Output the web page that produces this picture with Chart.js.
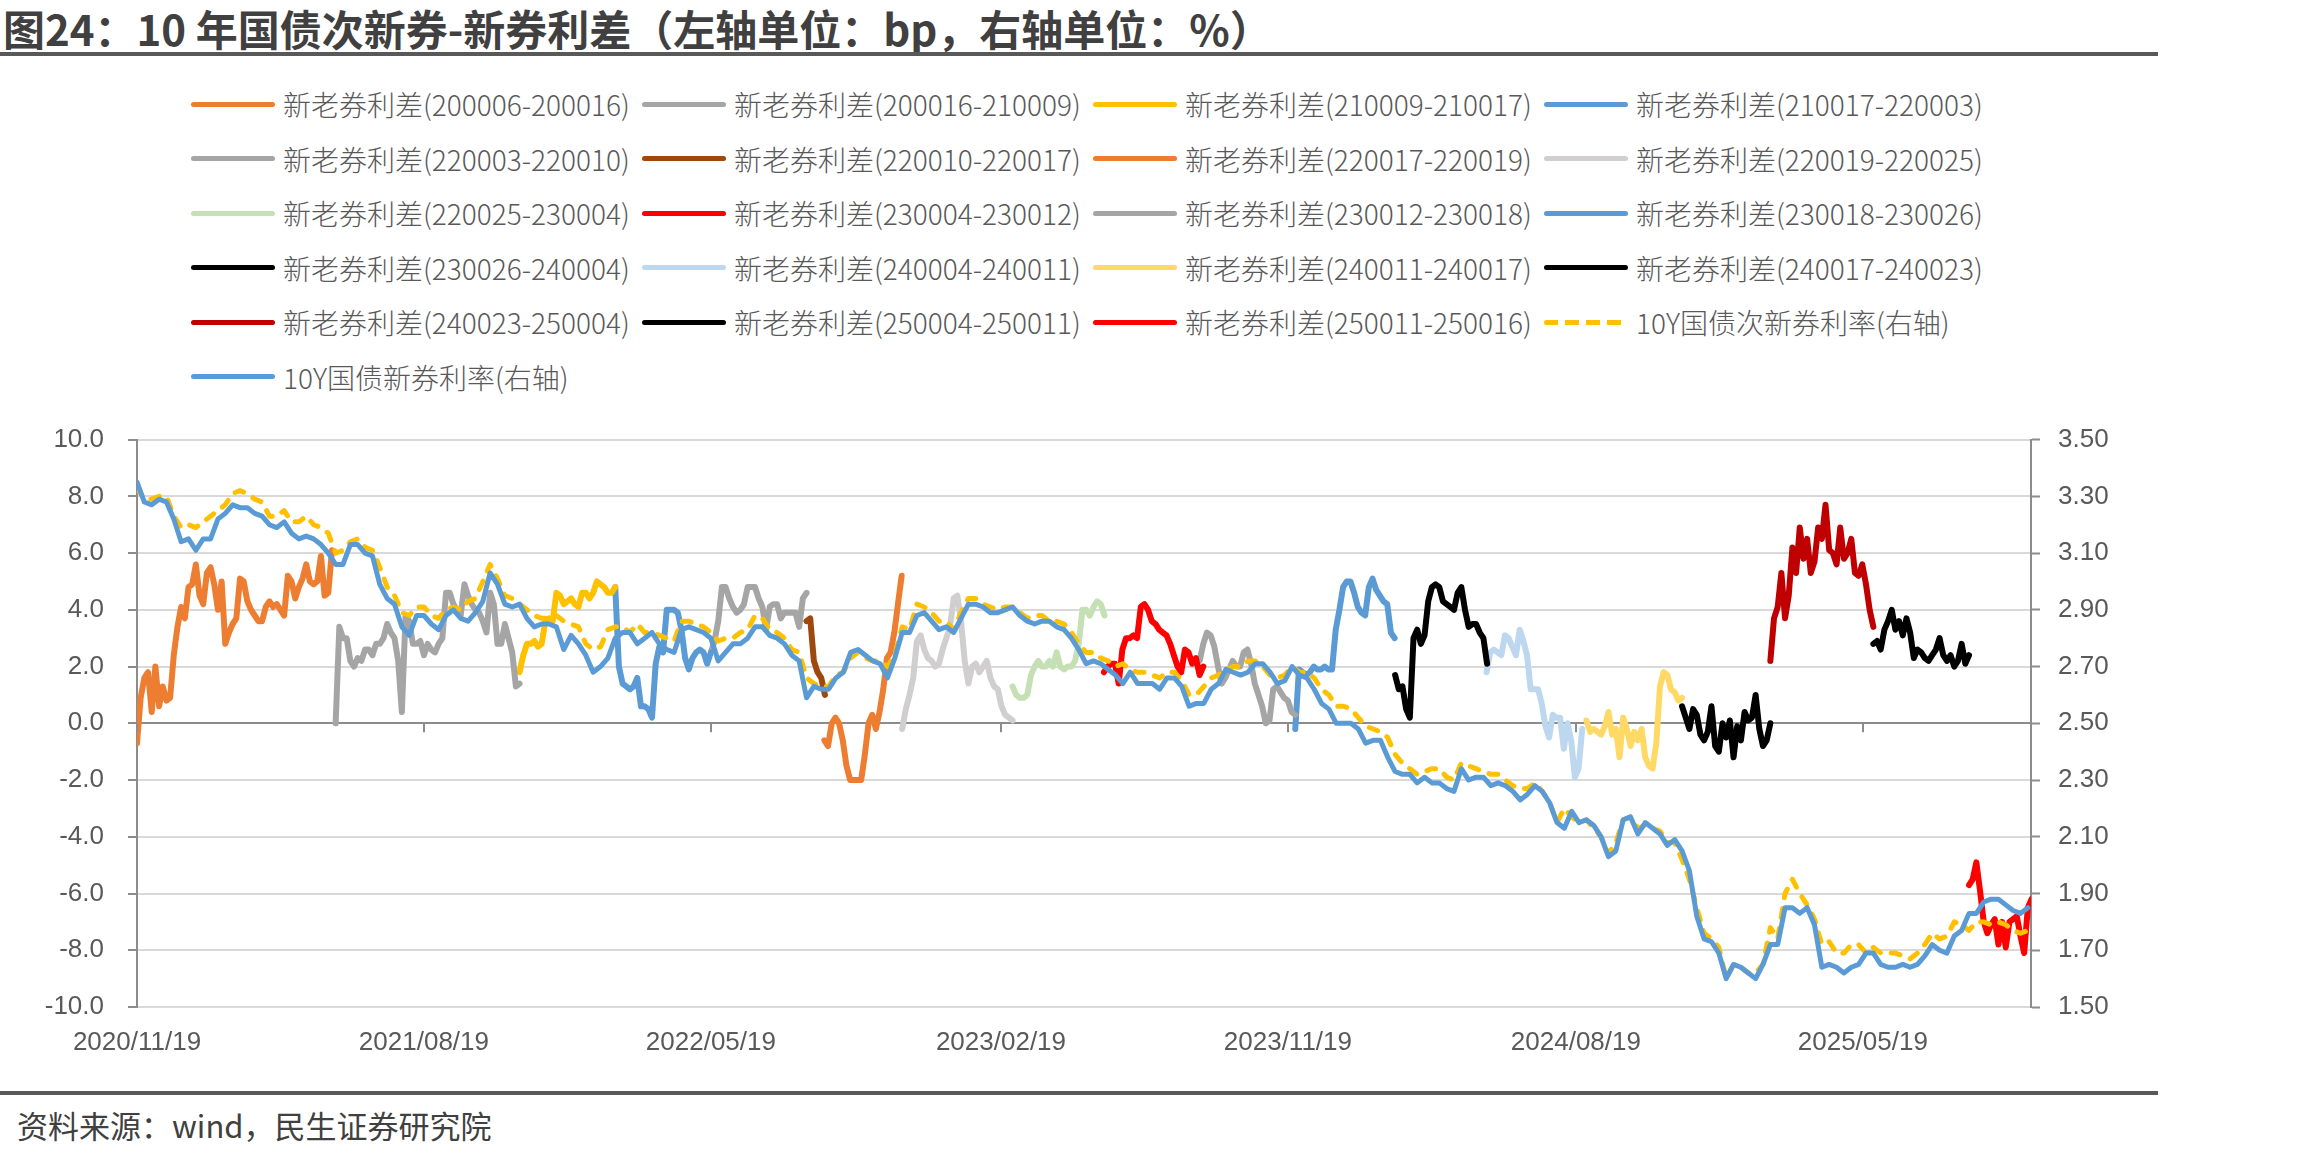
<!DOCTYPE html>
<html>
<head>
<meta charset="utf-8">
<script src="https://cdn.jsdelivr.net/npm/chart.js@4.4.1/dist/chart.umd.min.js"></script>
<style>
  body { margin: 0; background: #fff; }
  #page { position: relative; width: 2310px; height: 1155px; overflow: hidden; font-family: "Noto Sans CJK SC", sans-serif; }
  #title { position: absolute; left: 3px; top: 1px; font-size: 42px; font-weight: bold; color: #404040; line-height: 54px; white-space: nowrap; }
  .rule { position: absolute; left: 0; width: 2158px; height: 4px; background: #595959; }
  #legend { position: absolute; left: 191px; top: 77px; display: grid; grid-template-columns: repeat(4, 451px); grid-auto-rows: 54.5px; }
  .item { display: flex; align-items: center; font-size: 28px; font-weight: 300; color: #595959; white-space: nowrap; }
  .swatch { width: 84px; height: 5px; border-radius: 3px; margin-right: 8px; flex: none; }
  #source { position: absolute; left: 17px; top: 1103px; font-size: 31px; color: #404040; line-height: 44px; white-space: nowrap; }
  #chartBox { position: absolute; left: 0; top: 400px; width: 2160px; height: 680px; }
</style>
</head>
<body>
<div id="page">
  <div id="title">图24：10 年国债次新券-新券利差（左轴单位：bp，右轴单位：%）</div>
  <div class="rule" style="top:52px"></div>
  <div id="legend"></div>
  <div id="chartBox"><canvas id="spreadChart" width="2160" height="680"></canvas></div>
  <div class="rule" style="top:1091px"></div>
  <div id="source">资料来源：wind，民生证券研究院</div>
</div>
<script>
// x axis labels (every 9 months)
const xTickLabels = ["2020/11/19", "2021/08/19", "2022/05/19", "2023/02/19", "2023/11/19", "2024/08/19", "2025/05/19"];
const firstDate = "2020-11-19";
const lastDate = "2025-10-26";

// weekly readings, right axis (%), starting 2020-11-19
const yieldStepDays = 7;
const newYield = [
  3.35, 3.28, 3.27, 3.29, 3.28, 3.22, 3.14, 3.15, 3.11, 3.15, 3.15, 3.22, 3.24, 3.27, 3.26, 3.26, 3.24, 3.23, 3.20, 3.19,
  3.21, 3.17, 3.15, 3.16, 3.15, 3.13, 3.10, 3.06, 3.06, 3.13, 3.13, 3.10, 3.09, 2.99, 2.94, 2.92, 2.84, 2.81, 2.88, 2.88,
  2.85, 2.83, 2.88,
  2.90, 2.87, 2.86, 2.89, 2.93, 3.03, 2.99, 2.92, 2.91, 2.92, 2.87, 2.84, 2.85, 2.85, 2.84, 2.76, 2.81, 2.78, 2.74, 2.68,
  2.70, 2.73, 2.80, 2.82, 2.82, 2.78, 2.80, 2.82, 2.78, 2.76, 2.75, 2.83, 2.84, 2.83, 2.82, 2.80, 2.72, 2.75, 2.78, 2.78,
  2.80, 2.84,
  2.84, 2.81, 2.80, 2.78, 2.74, 2.72, 2.59, 2.63, 2.62, 2.62, 2.66, 2.68, 2.75, 2.76, 2.74, 2.72, 2.71, 2.66, 2.73, 2.82,
  2.82, 2.88, 2.89, 2.86, 2.83, 2.84, 2.82, 2.87, 2.92, 2.92, 2.91, 2.89, 2.89, 2.90, 2.91, 2.88, 2.86, 2.85, 2.86, 2.86,
  2.84, 2.83, 2.80, 2.76, 2.71,
  2.72, 2.71, 2.69, 2.67, 2.64, 2.68, 2.64, 2.64, 2.64, 2.62, 2.66, 2.66, 2.63, 2.56, 2.57, 2.57, 2.62, 2.64, 2.69, 2.68,
  2.67, 2.68, 2.71, 2.71, 2.68, 2.64, 2.65, 2.70, 2.67, 2.66, 2.62, 2.57, 2.55, 2.50, 2.50, 2.50, 2.48, 2.43, 2.44, 2.44,
  2.38, 2.33, 2.32,
  2.32, 2.29, 2.31, 2.29, 2.29, 2.27, 2.26, 2.34, 2.30, 2.31, 2.31, 2.28, 2.29, 2.28, 2.26, 2.23, 2.25, 2.28, 2.26, 2.22,
  2.15, 2.13, 2.19, 2.15, 2.16, 2.14, 2.10, 2.03, 2.05, 2.16, 2.17, 2.11, 2.15, 2.13, 2.11, 2.07, 2.09, 2.05, 1.98, 1.82,
  1.74, 1.73, 1.69, 1.60,
  1.65, 1.64, 1.62, 1.60, 1.65, 1.72, 1.72, 1.85, 1.85, 1.83, 1.85, 1.79, 1.64, 1.65, 1.64, 1.62, 1.64, 1.65, 1.69, 1.69,
  1.65, 1.64, 1.64, 1.65, 1.64, 1.65, 1.68, 1.72, 1.70, 1.69, 1.75, 1.77, 1.83, 1.83, 1.87, 1.88, 1.88, 1.86, 1.84, 1.83,
  1.85
];
const oldYield = [
  3.33, 3.29, 3.29, 3.30, 3.30, 3.23, 3.19, 3.20, 3.19, 3.21, 3.23, 3.25, 3.27, 3.31, 3.32, 3.31, 3.29, 3.28, 3.23, 3.23,
  3.25, 3.21, 3.21, 3.23, 3.20, 3.19, 3.17, 3.10, 3.11, 3.14, 3.15, 3.12, 3.11, 3.05, 2.98, 2.95, 2.89, 2.88, 2.91, 2.91,
  2.88, 2.87, 2.90,
  2.91, 2.90, 2.93, 2.94, 3.00, 3.06, 3.01, 2.95, 2.94, 2.92, 2.90, 2.88, 2.87, 2.87, 2.88, 2.86, 2.85, 2.84, 2.78, 2.76,
  2.77, 2.83, 2.84, 2.84, 2.82, 2.85, 2.82, 2.82, 2.81, 2.80, 2.79, 2.86, 2.86, 2.85, 2.84, 2.82, 2.79, 2.80, 2.80, 2.82,
  2.83, 2.88,
  2.87, 2.83, 2.82, 2.80, 2.76, 2.75, 2.66, 2.64, 2.63, 2.63, 2.67, 2.68, 2.73, 2.75, 2.73, 2.72, 2.72, 2.70, 2.74, 2.84,
  2.83, 2.92, 2.91, 2.89, 2.86, 2.86, 2.83, 2.89, 2.94, 2.94, 2.92, 2.91, 2.90, 2.91, 2.91, 2.89, 2.87, 2.88, 2.88, 2.86,
  2.86, 2.85, 2.82, 2.78, 2.75,
  2.75, 2.73, 2.72, 2.70, 2.71, 2.69, 2.68, 2.68, 2.67, 2.66, 2.68, 2.68, 2.65, 2.60, 2.60, 2.63, 2.66, 2.67, 2.69, 2.70,
  2.70, 2.72, 2.72, 2.70, 2.67, 2.66, 2.67, 2.70, 2.68, 2.68, 2.66, 2.62, 2.60, 2.56, 2.56, 2.55, 2.52, 2.49, 2.48, 2.47,
  2.45, 2.39, 2.36,
  2.34, 2.32, 2.33, 2.34, 2.34, 2.31, 2.30, 2.36, 2.35, 2.34, 2.33, 2.32, 2.32, 2.30, 2.28, 2.27, 2.27, 2.29, 2.26, 2.22,
  2.15, 2.20, 2.17, 2.15, 2.16, 2.13, 2.10, 2.04, 2.08, 2.16, 2.17, 2.13, 2.14, 2.13, 2.12, 2.08, 2.08, 2.02, 1.95, 1.85,
  1.76, 1.74, 1.71, 1.60,
  1.65, 1.64, 1.62, 1.62, 1.65, 1.78, 1.74, 1.90, 1.95, 1.90, 1.86, 1.81, 1.72, 1.73, 1.69, 1.69, 1.72, 1.72, 1.69, 1.71,
  1.69, 1.69, 1.69, 1.68, 1.67, 1.69, 1.72, 1.76, 1.74, 1.75, 1.80, 1.79, 1.77, 1.80, 1.80, 1.79, 1.80, 1.79, 1.77, 1.76,
  1.77
];

// old-new spreads, left axis (bp), read every half week from each start date
const spreadStepDays = 3.5;
const spreadNames = [
  "200006-200016", "200016-210009", "210009-210017", "210017-220003",
  "220003-220010", "220010-220017", "220017-220019", "220019-220025",
  "220025-230004", "230004-230012", "230012-230018", "230018-230026",
  "230026-240004", "240004-240011", "240011-240017", "240017-240023",
  "240023-250004", "250004-250011", "250011-250016"
];
const spreadStarts = [
  "2020-11-19", "2021-05-27", "2021-11-18", "2022-02-17",
  "2022-05-19", "2022-08-18", "2022-09-04", "2022-11-17",
  "2023-03-02", "2023-05-28", "2023-08-27", "2023-11-26",
  "2024-02-29", "2024-05-26", "2024-08-29", "2024-11-28",
  "2025-02-20", "2025-05-29", "2025-08-28"
];
const sp_200006_200016 = [-0.7, 0.9, 1.6, 1.8, 0.4, 2.0, 0.6, 1.3, 0.8, 0.9, 2.4, 3.4, 4.1, 3.7, 4.8, 4.9, 5.6, 4.5, 4.2, 5.3,
  5.5, 4.9, 4.0, 5.0, 2.8, 3.2, 3.5, 3.7, 5.1, 5.0, 4.3, 4.0, 3.8, 3.6, 3.6, 4.1, 4.3, 4.1, 4.2, 4.0,
  3.8, 5.2, 5.0, 4.4, 4.8, 5.1, 5.6, 5.0, 4.9, 5.0, 5.9, 4.5, 4.6, 6.1];
const sp_200016_210009 = [0.0, 3.4, 3.0, 3.0, 2.2, 2.0, 2.3, 2.2, 2.6, 2.6, 2.4, 2.8, 2.8, 3.0, 3.5, 3.2, 3.0, 2.2, 0.4, 3.8,
  3.6, 2.8, 2.8, 2.9, 2.4, 2.8, 2.6, 2.5, 2.8, 3.0, 4.6, 4.6, 4.2, 4.0, 3.8, 4.9, 4.5, 4.2, 4.0, 3.9,
  3.6, 3.2, 4.6, 4.2, 2.8, 2.8, 3.5, 3.0, 2.5, 1.3, 1.4];
const sp_210009_210017 = [1.8, 2.4, 2.8, 2.8, 2.9, 2.7, 2.8, 3.6, 3.7, 3.6, 4.6, 4.5, 4.2, 4.3, 4.4, 4.2, 4.1, 4.6, 4.6, 4.4,
  4.6, 5.0, 4.9, 4.8, 4.6, 4.6, 4.8];
const sp_210017_220003 = [4.8, 2.0, 1.4, 1.3, 1.2, 1.3, 1.6, 0.6, 0.6, 0.5, 0.2, 2.1, 2.7, 2.5, 4.0, 4.0, 4.0, 3.9, 3.3, 2.3,
  1.9, 2.3, 2.5, 2.6, 2.5, 2.1, 2.5];
const sp_220003_220010 = [2.5, 2.9, 3.6, 4.8, 4.8, 4.4, 4.1, 3.9, 4.0, 4.2, 4.8, 4.8, 4.8, 4.4, 4.1, 3.3, 4.1, 4.2, 4.2, 3.7,
  3.9, 3.9, 3.9, 3.9, 3.4, 4.4, 4.6];
const sp_220010_220017 = [3.6, 3.7, 2.2, 1.8, 1.6, 1.0];
const sp_220017_220019 = [-0.6, -0.8, 0.0, 0.2, 0.0, -0.6, -1.5, -2.0, -2.0, -2.0, -2.0, -1.1, 0.0, 0.3, -0.2, 0.4, 1.2, 2.3, 2.5, 3.2,
  4.2, 5.2];
const sp_220019_220025 = [-0.2, 0.5, 1.0, 1.6, 2.9, 3.1, 2.6, 2.3, 2.2, 2.0, 2.1, 2.6, 3.0, 3.4, 4.4, 4.5, 3.6, 2.2, 1.4, 2.0,
  2.1, 1.8, 2.0, 2.2, 1.6, 1.3, 1.2, 0.6, 0.3, 0.2, 0.1];
const sp_220025_230004 = [1.3, 1.0, 0.9, 0.9, 1.0, 1.7, 2.0, 2.2, 2.0, 2.0, 2.2, 2.0, 2.5, 2.0, 1.9, 2.0, 2.0, 2.2, 2.8, 4.0,
  4.0, 3.8, 4.1, 4.3, 4.2, 3.8];
const sp_230004_230012 = [1.8, 2.0, 2.1, 2.1, 1.4, 2.6, 3.0, 3.0, 3.1, 3.0, 4.1, 4.2, 4.0, 3.6, 3.5, 3.3, 3.2, 3.1, 2.8, 2.4,
  2.0, 1.8, 2.6, 2.5, 2.1, 2.3, 1.7, 2.0];
const sp_230012_230018 = [2.2, 2.8, 3.2, 3.1, 2.7, 2.0, 1.4, 1.6, 1.9, 2.2, 2.0, 2.0, 2.5, 2.6, 2.1, 1.4, 1.0, 0.6, 0.0, 0.1,
  1.2, 1.3, 1.1, 0.9, 0.8, 0.4, 0.3];
const sp_230018_230026 = [-0.2, 1.9, 1.8, 1.7, 1.8, 2.0, 1.9, 1.9, 2.0, 1.9, 1.9, 3.3, 4.0, 4.8, 5.0, 5.0, 4.6, 4.1, 3.9, 3.8,
  4.8, 5.1, 4.7, 4.5, 4.3, 4.2, 3.2, 3.0];
const sp_230026_240004 = [1.7, 1.2, 1.3, 0.5, 0.2, 3.0, 3.3, 2.8, 3.1, 4.3, 4.8, 4.9, 4.8, 4.3, 4.2, 4.1, 4.0, 4.6, 4.8, 4.0,
  3.4, 3.5, 3.5, 3.2, 3.0, 2.1];
const sp_240004_240011 = [1.8, 2.5, 2.6, 2.5, 2.4, 3.1, 3.0, 2.7, 2.4, 3.3, 2.9, 2.4, 1.2, 1.2, 1.2, 0.7, -0.1, -0.5, 0.3, 0.2,
  0.2, -0.9, 0.0, -0.6, -1.9, -1.6, -0.2];
const sp_240011_240017 = [0.1, -0.3, -0.2, -0.3, -0.4, -0.1, 0.4, -0.4, -0.2, -1.2, 0.2, -0.2, -0.8, -0.3, -0.6, -0.2, -1.2, -1.5, -1.6, -0.7,
  1.3, 1.8, 1.7, 1.2, 1.1, 0.8, 0.9];
const sp_240017_240023 = [0.6, 0.2, -0.2, 0.5, 0.3, -0.4, -0.6, -0.3, 0.6, -0.8, -1.0, 0.0, -0.5, 0.1, -1.2, -0.1, -0.6, 0.4, 0.1, 0.2,
  1.0, -0.2, -0.8, -0.6, 0.0];
const sp_240023_250004 = [2.2, 3.7, 4.1, 5.3, 3.7, 4.5, 6.2, 5.3, 6.9, 5.8, 6.5, 5.3, 5.7, 6.9, 6.5, 7.7, 6.1, 6.0, 5.6, 6.9,
  5.8, 6.0, 6.5, 5.3, 5.2, 5.6, 4.9, 4.0, 3.4];
const sp_250004_250011 = [2.8, 2.9, 2.6, 3.3, 3.6, 4.0, 3.3, 3.6, 3.1, 3.7, 3.2, 2.3, 2.6, 2.5, 2.3, 2.2, 2.4, 2.6, 3.0, 2.4,
  2.2, 2.4, 2.0, 2.2, 2.8, 2.1, 2.4];
const sp_250011_250016 = [-5.7, -5.5, -4.9, -5.9, -7.0, -7.4, -7.1, -6.9, -7.8, -7.0, -7.9, -7.0, -6.9, -6.8, -7.5, -8.1, -6.5, -6.2];

const spreadValues = [
  sp_200006_200016, sp_200016_210009, sp_210009_210017, sp_210017_220003,
  sp_220003_220010, sp_220010_220017, sp_220017_220019, sp_220019_220025,
  sp_220025_230004, sp_230004_230012, sp_230012_230018, sp_230018_230026,
  sp_230026_240004, sp_240004_240011, sp_240011_240017, sp_240017_240023,
  sp_240023_250004, sp_250004_250011, sp_250011_250016
];
const spreadColors = [
  "#ED7D31", "#A5A5A5", "#FFC000", "#5B9BD5",
  "#A5A5A5", "#9E480E", "#ED7D31", "#D0CECE",
  "#C5E0B4", "#FF0000", "#A5A5A5", "#5B9BD5",
  "#000000", "#BDD7EE", "#FFD966", "#000000",
  "#C00000", "#000000", "#FF0000"
];

function dayOf(s) {
  const [y, m, d] = s.replace(/\//g, "-").split("-").map(Number);
  const [y0, m0, d0] = firstDate.split("-").map(Number);
  return (Date.UTC(y, m - 1, d) - Date.UTC(y0, m0 - 1, d0)) / 86400000;
}
function series(start, step, values) {
  const d0 = dayOf(start);
  return values.map((v, i) => ({ x: d0 + step * i, y: v }));
}
const xTickDays = xTickLabels.map(dayOf);

const datasets = spreadValues.map((vals, i) => ({
  label: "新老券利差(" + spreadNames[i] + ")",
  data: series(spreadStarts[i], spreadStepDays, vals),
  borderColor: spreadColors[i],
  backgroundColor: spreadColors[i],
  borderWidth: 6,
  yAxisID: "y",
  order: 2
}));
datasets.push({
  label: "10Y国债次新券利率(右轴)",
  data: series(firstDate, yieldStepDays, oldYield),
  borderColor: "#FFC000",
  backgroundColor: "#FFC000",
  borderWidth: 5,
  borderDash: [9, 11],
  borderCapStyle: "round",
  yAxisID: "y1",
  order: 1
});
datasets.push({
  label: "10Y国债新券利率(右轴)",
  data: series(firstDate, yieldStepDays, newYield),
  borderColor: "#5B9BD5",
  backgroundColor: "#5B9BD5",
  borderWidth: 5,
  yAxisID: "y1",
  order: 0
});

// tick marks hanging under the zero line
const zeroTicks = {
  id: "zeroTicks",
  afterDraw(chart) {
    const { ctx, scales } = chart;
    const y0 = scales.y.getPixelForValue(0);
    ctx.save();
    ctx.strokeStyle = "#8C8C8C";
    ctx.lineWidth = 2;
    scales.x.ticks.forEach(t => {
      const px = Math.round(scales.x.getPixelForValue(t.value));
      ctx.beginPath();
      ctx.moveTo(px, y0);
      ctx.lineTo(px, y0 + 9);
      ctx.stroke();
    });
    ctx.restore();
  }
};

const tickFont = { family: "'Liberation Sans', Arial, sans-serif", size: 26 };

const chart = new Chart(document.getElementById("spreadChart").getContext("2d"), {
  type: "line",
  data: { datasets: datasets },
  options: {
    responsive: false,
    animation: false,
    parsing: false,
    normalized: true,
    layout: { padding: { top: 36, left: 0, right: 0, bottom: 0 } },
    elements: {
      point: { radius: 0, hoverRadius: 0 },
      line: { tension: 0, borderJoinStyle: "round", borderCapStyle: "round" }
    },
    plugins: { legend: { display: false }, tooltip: { enabled: false } },
    scales: {
      x: {
        type: "linear",
        min: 0,
        max: dayOf(lastDate),
        afterBuildTicks: s => { s.ticks = xTickDays.map(v => ({ value: v })); },
        afterFit: s => { s.height = 73; },
        grid: { display: false, drawTicks: false },
        border: { display: false },
        ticks: {
          autoSkip: false,
          maxRotation: 0,
          padding: 20,
          color: "#595959",
          font: tickFont,
          callback: v => xTickLabels[xTickDays.indexOf(v)]
        }
      },
      y: {
        position: "left",
        min: -10,
        max: 10,
        afterFit: s => { s.width = 137; },
        grid: {
          color: c => (c.tick && c.tick.value === 0 ? "#8C8C8C" : "#D9D9D9"),
          lineWidth: 2,
          tickLength: 9,
          tickColor: "#8C8C8C",
          tickWidth: 2
        },
        border: { color: "#8C8C8C", width: 2 },
        ticks: { stepSize: 2, padding: 24, color: "#595959", font: tickFont, callback: v => v.toFixed(1) }
      },
      y1: {
        position: "right",
        min: 1.5,
        max: 3.5,
        afterFit: s => { s.width = 129; },
        grid: { drawOnChartArea: false, tickLength: 9, tickColor: "#8C8C8C", tickWidth: 2 },
        border: { color: "#8C8C8C", width: 2 },
        ticks: { stepSize: 0.2, padding: 18, color: "#595959", font: tickFont, callback: v => v.toFixed(2) }
      }
    }
  },
  plugins: [zeroTicks]
});

// legend in a 4-column grid, built from the chart's datasets
const legendBox = document.getElementById("legend");
chart.data.datasets.forEach(ds => {
  const item = document.createElement("div");
  item.className = "item";
  const sw = document.createElement("span");
  sw.className = "swatch";
  if (ds.borderDash) {
    sw.style.background = "repeating-linear-gradient(90deg, " + ds.borderColor + " 0 14px, transparent 14px 21px)";
  } else {
    sw.style.background = ds.borderColor;
  }
  const tx = document.createElement("span");
  tx.textContent = ds.label;
  item.appendChild(sw);
  item.appendChild(tx);
  legendBox.appendChild(item);
});
</script>
</body>
</html>
